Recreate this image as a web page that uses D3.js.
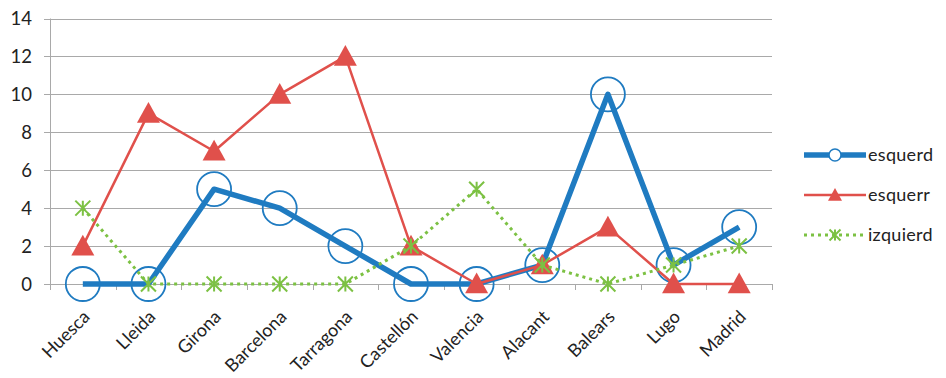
<!DOCTYPE html>
<html>
<head>
<meta charset="utf-8">
<script src="https://cdn.jsdelivr.net/npm/d3@7"></script>
<style>
  html, body { margin: 0; padding: 0; background: #fff; }
  svg { display: block; font-family: Lato, "Open Sans", "Noto Sans", sans-serif; }
</style>
</head>
<body>
<svg id="chart" width="946" height="378"></svg>
<script>
// Provincial counts per series
const categories = ["Huesca", "Lleida", "Girona", "Barcelona", "Tarragona", "Castellón", "Valencia", "Alacant", "Balears", "Lugo", "Madrid"];
const esquerd  = [0, 0, 5, 4, 2, 0, 0, 1, 10, 1, 3];
const esquerr  = [2, 9, 7, 10, 12, 2, 0, 1, 3, 0, 0];
const izquierd = [4, 0, 0, 0, 0, 2, 5, 1, 0, 1, 2];
const yTicks = [0, 2, 4, 6, 8, 10, 12, 14];

const series = [
  { name: "esquerd",  values: esquerd,  color: "#1f7bc1", width: 5.5, dash: null,  marker: "circle" },
  { name: "esquerr",  values: esquerr,  color: "#e0504b", width: 2.5, dash: null,  marker: "triangle" },
  { name: "izquierd", values: izquierd, color: "#7cc143", width: 3,   dash: "3,4", marker: "star" }
];

const svg = d3.select("#chart");
const plotLeft = 50, plotRight = 772, plotTop = 18.5, plotBottom = 284;

const x = d3.scaleBand().domain(categories).range([plotLeft, plotRight]).padding(0);
const y = d3.scaleLinear().domain([0, 14]).range([plotBottom, plotTop]);
const cx = d => x(d) + x.bandwidth() / 2;

// Horizontal gridlines with small left ticks
svg.append("g")
  .selectAll("line")
  .data(yTicks)
  .join("line")
  .attr("x1", plotLeft - 6).attr("x2", plotRight)
  .attr("y1", d => Math.round(y(d)) + 0.5).attr("y2", d => Math.round(y(d)) + 0.5)
  .attr("stroke", "#a9a9a9").attr("stroke-width", 1);

// Vertical axis line
svg.append("line")
  .attr("x1", plotLeft + 0.5).attr("x2", plotLeft + 0.5)
  .attr("y1", plotTop).attr("y2", plotBottom + 0.5)
  .attr("stroke", "#a9a9a9");

// Category tick marks below the baseline
const boundaries = categories.map(c => x(c)).concat([plotRight]);
svg.append("g")
  .selectAll("line")
  .data(boundaries)
  .join("line")
  .attr("x1", d => Math.round(d) + 0.5).attr("x2", d => Math.round(d) + 0.5)
  .attr("y1", plotBottom).attr("y2", plotBottom + 6)
  .attr("stroke", "#a9a9a9");

// Y tick labels
svg.append("g")
  .selectAll("text")
  .data(yTicks)
  .join("text")
  .attr("x", 32)
  .attr("y", d => y(d))
  .attr("dy", "0.36em")
  .attr("text-anchor", "end")
  .attr("font-size", 18.5)
  .attr("fill", "#222")
  .text(d => d);

// Rotated category labels
svg.append("g")
  .selectAll("text")
  .data(categories)
  .join("text")
  .attr("transform", d => `translate(${cx(d) + 8},${plotBottom + 34}) rotate(-45)`)
  .attr("text-anchor", "end")
  .attr("font-size", 18)
  .attr("fill", "#222")
  .text(d => d);

const line = d3.line().x((v, i) => cx(categories[i])).y(v => y(v));

function drawMarker(g, type, color, size) {
  if (type === "circle") {
    g.append("circle").attr("r", size).attr("fill", "none")
      .attr("stroke", color).attr("stroke-width", 1.8);
  } else if (type === "triangle") {
    const w = size, h = size * 0.9;
    g.append("path")
      .attr("d", `M0,${-h * 0.55}L${w / 2},${h * 0.45}L${-w / 2},${h * 0.45}Z`)
      .attr("fill", color);
  } else if (type === "star") {
    const s = size / 2;
    g.append("path")
      .attr("d", `M${-s},${-s}L${s},${s}M${-s},${s}L${s},${-s}M0,${-s}L0,${s}`)
      .attr("stroke", color).attr("stroke-width", 2).attr("fill", "none");
  }
}

const markerSize = { circle: 17, triangle: 23, star: 15 };

series.forEach(s => {
  const g = svg.append("g");
  g.append("path")
    .datum(s.values)
    .attr("d", line)
    .attr("fill", "none")
    .attr("stroke", s.color)
    .attr("stroke-width", s.width)
    .attr("stroke-linejoin", "round")
    .attr("stroke-dasharray", s.dash);
  s.values.forEach((v, i) => {
    const m = g.append("g").attr("transform", `translate(${cx(categories[i])},${y(v)})`);
    drawMarker(m, s.marker, s.color, markerSize[s.marker]);
  });
});

// Legend
const legend = svg.append("g");
const legendRows = [155, 195, 235];
const legendMarkerSize = { circle: 6, triangle: 14, star: 11 };
series.forEach((s, i) => {
  const ly = legendRows[i];
  legend.append("line")
    .attr("x1", 804).attr("x2", 866)
    .attr("y1", ly).attr("y2", ly)
    .attr("stroke", s.color)
    .attr("stroke-width", s.width)
    .attr("stroke-dasharray", s.dash);
  const m = legend.append("g").attr("transform", `translate(835,${ly})`);
  if (s.marker === "circle") {
    m.append("circle").attr("r", 6).attr("fill", "#fff").attr("stroke", s.color).attr("stroke-width", 1.5);
  } else {
    drawMarker(m, s.marker, s.color, legendMarkerSize[s.marker]);
  }
  legend.append("text")
    .attr("x", 868).attr("y", ly)
    .attr("dy", "0.35em")
    .attr("font-size", 18)
    .attr("letter-spacing", 0.3)
    .attr("fill", "#222")
    .text(s.name);
});
</script>
</body>
</html>
